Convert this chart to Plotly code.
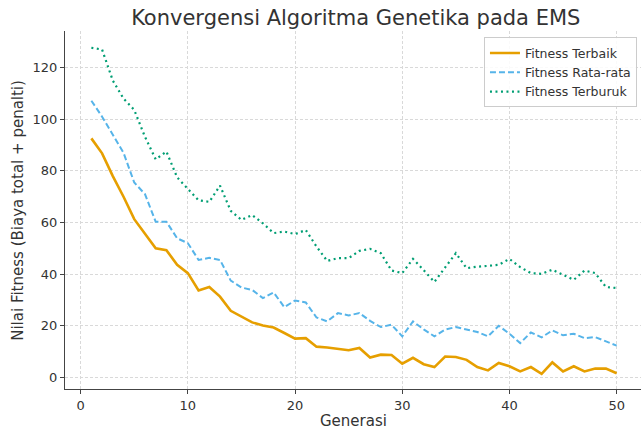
import plotly.graph_objects as go

generasi = list(range(1, 51))
fitness_terbaik = [92.6, 86.8, 78, 70, 61.3, 55.5, 50, 49.3, 43.6, 40.4,
                   33.7, 35, 31.3, 25.8, 23.5, 21.3, 20.1, 19.3, 17.2, 15,
                   15.2, 11.9, 11.6, 11, 10.5, 11.4, 7.7, 8.8, 8.7, 5.3,
                   7.6, 5.1, 4, 8.1, 7.9, 6.8, 4, 2.7, 5.6, 4.3,
                   2.3, 4, 1.4, 5.8, 2.3, 4.3, 2.3, 3.4, 3.4, 1.6]
fitness_rata = [107.2, 101, 94, 87, 75.5, 71, 60.3, 60.3, 53.9, 52,
                45.5, 46.3, 45.5, 37.5, 34.8, 33.9, 30.7, 32.9, 27.2, 29.8,
                29, 23.2, 21.7, 24.9, 24, 24.9, 21.9, 19.5, 20.4, 15.9,
                21.7, 18.6, 15.9, 18.5, 19.5, 18.5, 17.6, 15.9, 20, 16.9,
                13.3, 17.4, 15.5, 18.2, 16.3, 16.9, 15.2, 15.6, 13.9, 12.3]
fitness_terburuk = [127.7, 127, 115, 108, 103.6, 93.2, 84.5, 87.5, 77.5, 73,
                    68.6, 68, 74.3, 64.5, 61, 62.9, 59.7, 55.9, 56.5, 55.5,
                    57.1, 50.7, 45.1, 46.2, 46.2, 49, 49.8, 48.1, 41.4, 40.4,
                    45.9, 41.5, 37, 42.6, 48.1, 42.3, 42.9, 43.2, 43.6, 45.9,
                    42.7, 40.4, 40.1, 41.7, 39.7, 37.8, 41.4, 40.4, 35, 34.6]

font = "DejaVu Sans"
txt = "#333333"
fig = go.Figure()
fig.add_trace(go.Scatter(x=generasi, y=fitness_terbaik, mode="lines", name="Fitness Terbaik",
                         line=dict(color="#E69F00", width=2.6)))
fig.add_trace(go.Scatter(x=generasi, y=fitness_rata, mode="lines", name="Fitness Rata-rata",
                         line=dict(color="#56B4E9", width=2, dash="6px,3px")))
fig.add_trace(go.Scatter(x=generasi, y=fitness_terburuk, mode="lines", name="Fitness Terburuk",
                         line=dict(color="#009E73", width=2.2, dash="2px,3.5px")))

fig.update_layout(
    width=641, height=432,
    margin=dict(l=65, r=0, t=31, b=43),
    paper_bgcolor="white", plot_bgcolor="white",
    font=dict(family=font, size=13, color=txt),
    title=dict(text="Konvergensi Algoritma Genetika pada EMS", x=0.555, xanchor="center",
               y=0.96, yanchor="middle", font=dict(family=font, size=21, color=txt)),
    legend=dict(x=0.993, y=0.982, xanchor="right", yanchor="top",
                bgcolor="rgba(255,255,255,0.85)", bordercolor="#cccccc", borderwidth=1,
                font=dict(family=font, size=12.5, color=txt),
                tracegroupgap=0, itemwidth=30),
    showlegend=True,
    annotations=[
        dict(text="Generasi", xref="paper", yref="paper", x=0.5, y=-0.089,
             xanchor="center", yanchor="middle", showarrow=False,
             font=dict(family=font, size=15, color=txt)),
        dict(text="Nilai Fitness (Biaya total + penalti)", xref="paper", yref="paper",
             x=-0.082, y=0.5, xanchor="center", yanchor="middle", textangle=-90,
             showarrow=False, font=dict(family=font, size=15, color=txt)),
    ],
)
axis_common = dict(showgrid=True, gridcolor="#d9d9d9", griddash="3px,2px", gridwidth=1,
                   showline=True, linecolor="#444444", linewidth=1.2, zeroline=False,
                   ticks="outside", ticklen=4, tickcolor="#444444", automargin=False,
                   tickfont=dict(family=font, size=13, color=txt))
fig.update_xaxes(range=[-1.46, 52.27], tickvals=[0, 10, 20, 30, 40, 50], **axis_common)
fig.update_yaxes(range=[-4.5, 134.2], tickvals=[0, 20, 40, 60, 80, 100, 120], **axis_common)
fig.write_html("out.html", config={"displayModeBar": False},
               post_script="document.body.style.margin='0';")
